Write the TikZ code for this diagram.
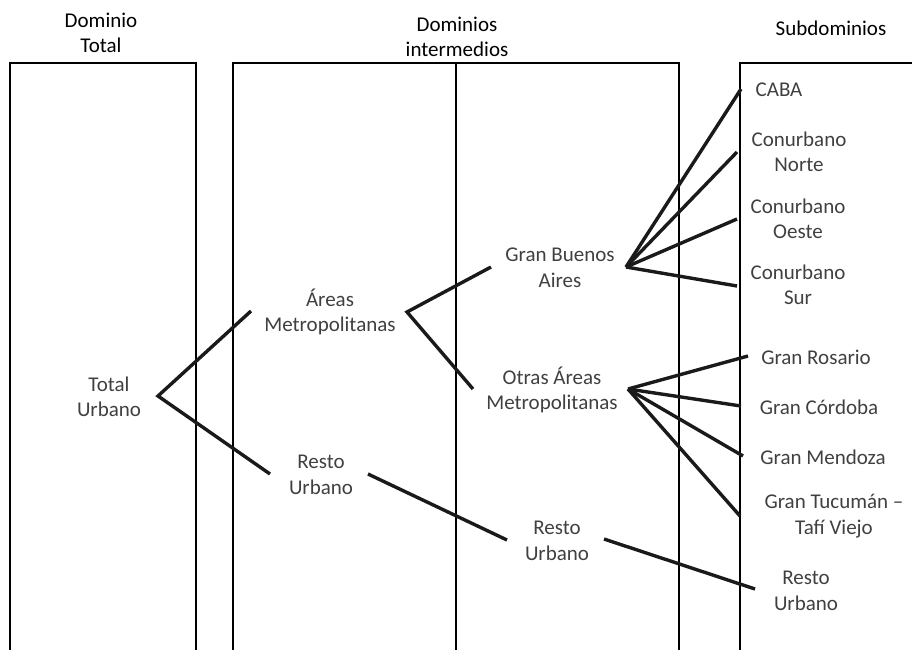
\documentclass[tikz,border=0pt]{standalone}
\usepackage{fontspec}
\setmainfont{Carlito}
\definecolor{txtgray}{HTML}{404040}
\definecolor{lngray}{HTML}{1A1A1A}
\begin{document}
\begin{tikzpicture}[x=1pt,y=-1pt,
  frame/.style={draw=black,line width=1.7pt},
  conn/.style={draw=lngray,line width=3.4pt},
  lbl/.style={align=center,inner sep=0pt,text=txtgray,font=\fontsize{21}{25.5}\selectfont},
  hdr/.style={align=center,inner sep=0pt,text=black,font=\fontsize{21}{25.5}\selectfont}]
\useasboundingbox (0,0) rectangle (912,649);
% frames
\draw[frame] (10,652) -- (10,63) -- (196,63) -- (196,652);
\draw[frame] (233,652) -- (233,63) -- (679,63) -- (679,652);
\draw[frame] (456,63) -- (456,652);
\draw[frame] (740,652) -- (740,63) -- (915,63);
% headers
\node[hdr] (hTotal) at (101,33) {Dominio\\Total};
\node[hdr] (hInter) at (457,37) {Dominios\\intermedios};
\node[hdr] (hSub) at (831,28) {Subdominios};
% labels
\node[lbl] (tu) at (109,397) {Total\\Urbano};
\node[lbl] (am) at (330,312) {Áreas\\Metropolitanas};
\node[lbl] (ru1) at (321,475) {Resto\\Urbano};
\node[lbl] (gba) at (560,268) {Gran Buenos\\Aires};
\node[lbl] (oam) at (552,390) {Otras Áreas\\Metropolitanas};
\node[lbl] (ru2) at (557,541) {Resto\\Urbano};
\node[lbl] (caba) at (779,90) {CABA};
\node[lbl] (cn) at (799,152) {Conurbano\\Norte};
\node[lbl] (co) at (798,219) {Conurbano\\Oeste};
\node[lbl] (cs) at (798,285) {Conurbano\\Sur};
\node[lbl] (gr) at (816,357) {Gran Rosario};
\node[lbl] (gc) at (819,407) {Gran Córdoba};
\node[lbl] (gm) at (823,457) {Gran Mendoza};
\node[lbl] (gt) at (834,516) {Gran Tucumán –\\Tafí Viejo};
\node[lbl] (ru3) at (806,591) {Resto\\Urbano};
% connector points
\coordinate (vtu) at (158,396);
\coordinate (eam) at (251,311);
\coordinate (eru1) at (270,474);
\coordinate (vam) at (407,312);
\coordinate (egba) at (491,267);
\coordinate (eoam) at (473,389);
\coordinate (sru1) at (368,474);
\coordinate (eru2) at (507,540);
\coordinate (vgba) at (626,267);
\coordinate (ecaba) at (741,89);
\coordinate (ecn) at (737,152);
\coordinate (eco) at (737,219);
\coordinate (ecs) at (737,286);
\coordinate (voam) at (628,389);
\coordinate (egr) at (748,356);
\coordinate (egc) at (741,406);
\coordinate (egm) at (743,456);
\coordinate (egt) at (740,516);
\coordinate (sru2) at (604,539);
\coordinate (eru3) at (755,589);
% connectors
\draw[conn] (eam) -- (vtu) -- (eru1);
\draw[conn] (egba) -- (vam) -- (eoam);
\draw[conn] (sru1) -- (eru2);
\draw[conn] (vgba) -- (ecaba);
\draw[conn] (vgba) -- (ecn);
\draw[conn] (vgba) -- (eco);
\draw[conn] (vgba) -- (ecs);
\draw[conn] (voam) -- (egr);
\draw[conn] (voam) -- (egc);
\draw[conn] (voam) -- (egm);
\draw[conn] (voam) -- (egt);
\draw[conn] (sru2) -- (eru3);
\end{tikzpicture}
\end{document}
